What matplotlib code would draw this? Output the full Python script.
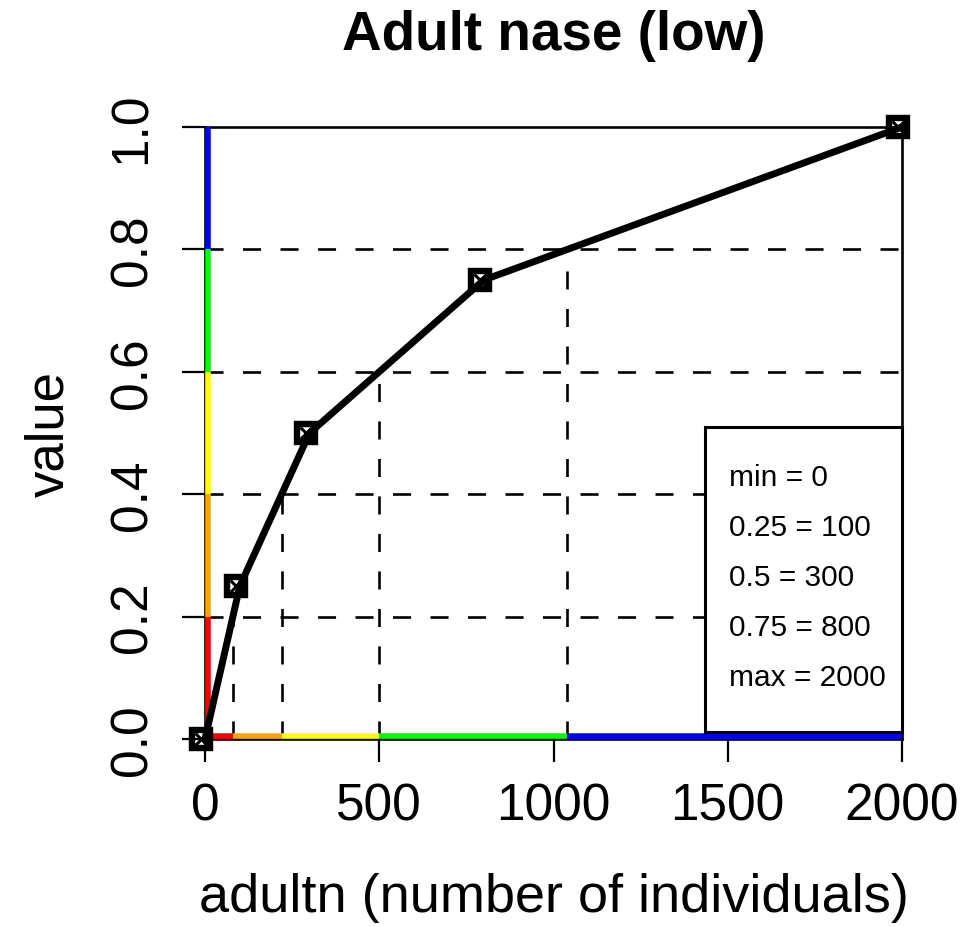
import numpy as np
import matplotlib
matplotlib.use("Agg")
import matplotlib.pyplot as plt
from matplotlib.patches import Rectangle
from matplotlib.transforms import offset_copy

plt.rcParams['font.family'] = ['Liberation Sans', 'DejaVu Sans']
plt.rcParams['lines.scale_dashes'] = False

# quantile points of the value curve
adultn = [0, 100, 300, 800, 2000]
value = [0, 0.25, 0.5, 0.75, 1.0]
legend_lines = ["min = 0", "0.25 = 100", "0.5 = 300", "0.75 = 800", "max = 2000"]
class_breaks = [0.2, 0.4, 0.6, 0.8]
class_colors = ["#FF0000", "#FFA500", "#FFFF00", "#00FF00", "#0000FF"]
xticks = [0, 500, 1000, 1500, 2000]
yticks = [0.0, 0.2, 0.4, 0.6, 0.8, 1.0]

W, H = 974, 928
fig = plt.figure(figsize=(W / 100, H / 100), dpi=100)
ax = fig.add_axes([205 / W, (H - 740) / H, 697 / W, 612 / H])
ax.set_xlim(0, 2000)
ax.set_ylim(0, 1)
for s in ax.spines.values():
    s.set_visible(False)

# x positions where curve crosses each break
xb = np.interp(class_breaks, value, adultn)
xedges = np.concatenate([[adultn[0]], xb, [adultn[-1]]])
yedges = np.concatenate([[value[0]], class_breaks, [value[-1]]])

lw_thin = 1.9
# frame lines
ax.plot([adultn[0], adultn[0]], [value[0], value[-1]], color='black', lw=lw_thin, clip_on=False)
ax.plot([adultn[0], adultn[-1]], [value[0], value[0]], color='black', lw=lw_thin, clip_on=False)
ax.plot([adultn[0], adultn[-1]], [value[-1], value[-1]], color='black', lw=lw_thin, clip_on=False)
ax.plot([adultn[-1], adultn[-1]], [value[0], value[-1]], color='black', lw=lw_thin, clip_on=False)

# dashed guides
for yv, xv in zip(class_breaks, xb):
    ax.plot([adultn[0], adultn[-1]], [yv, yv], color='black', lw=lw_thin,
            dashes=(13, 14), clip_on=False)
    ax.plot([xv, xv], [0, yv], color='black', lw=lw_thin, dashes=(13, 14), clip_on=False)

# coloured class bars along the axes
tr_up = offset_copy(ax.transData, fig=fig, x=0, y=3, units='dots')
tr_right = offset_copy(ax.transData, fig=fig, x=3, y=0, units='dots')
for i, c in enumerate(class_colors):
    ax.plot([xedges[i], xedges[i + 1]], [0, 0], color=c, lw=4, solid_capstyle='butt',
            transform=tr_up, clip_on=False)
    ax.plot([0, 0], [yedges[i], yedges[i + 1]], color=c, lw=4, solid_capstyle='butt',
            transform=tr_right, clip_on=False)

# curve with boxed-x markers
ax.plot(adultn, value, color='black', lw=5, clip_on=False, zorder=5)
tr_mk = offset_copy(ax.transData, fig=fig, x=-4, y=0, units='dots')
ax.plot(adultn, value, ls='none', marker='s', ms=13, mfc='none', mec='black', mew=4.6,
        transform=tr_mk, clip_on=False, zorder=6)
ax.plot(adultn, value, ls='none', marker='x', ms=9, mec='black', mew=2.2,
        transform=tr_mk, clip_on=False, zorder=6)

# legend box
x0 = (705 - 205) / 697
y0 = 7 / 612
ax.add_patch(Rectangle((x0, y0), 1 - x0, (740 - 428) / 612 - y0, transform=ax.transAxes,
                       fill=True, fc='white', ec='black', lw=2.2, zorder=7, clip_on=False))
for i, t in enumerate(legend_lines):
    ax.text((729 - 205) / 697, (740 - 478 - 50 * i) / 612, t, transform=ax.transAxes,
            fontsize=21.5, va='center', ha='left', zorder=8)

ax.set_xticks(xticks)
ax.set_xticklabels([str(v) for v in xticks])
ax.set_yticks(yticks)
ax.set_yticklabels([f"{v:.1f}" for v in yticks], rotation=90, va='center')
ax.tick_params(axis='both', direction='out', length=16.5, width=1.6, labelsize=37)
ax.tick_params(axis='x', pad=14)
ax.tick_params(axis='y', pad=18)

ax.set_xlabel("adultn (number of individuals)", fontsize=39, labelpad=30)
ax.set_ylabel("value", fontsize=38, labelpad=24)
ax.set_title("Adult nase (low)", fontsize=39.5, fontweight='bold', pad=56)

fig.savefig("out.png", dpi=100)
